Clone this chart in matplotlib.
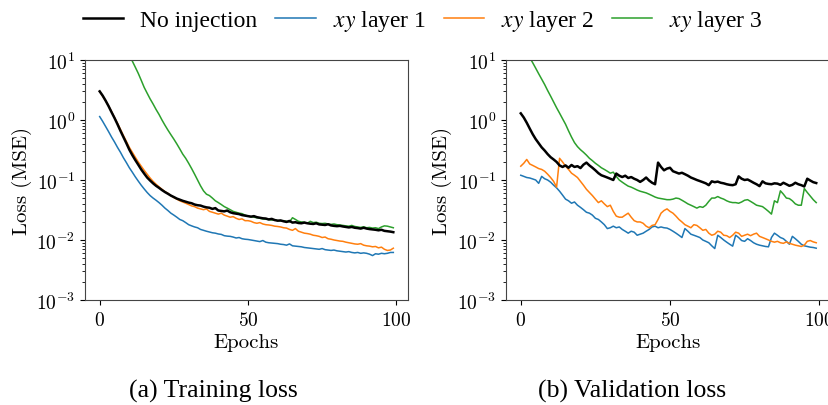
import numpy as np
import matplotlib
matplotlib.use("Agg")
import matplotlib.pyplot as plt
from matplotlib.ticker import FuncFormatter, FixedLocator, LogLocator, NullFormatter
from matplotlib.font_manager import FontProperties

plt.rcParams['mathtext.fontset'] = 'cm'

epochs = list(range(100))

series_labels = ["No injection", r"$xy$ layer 1", r"$xy$ layer 2", r"$xy$ layer 3"]
series_colors = ["black", "#1f77b4", "#ff7f0e", "#2ca02c"]

train_none = [3.0, 2.55, 2.1, 1.7, 1.35, 1.08, 0.85, 0.66, 0.52, 0.41,
              0.32, 0.26, 0.215, 0.18, 0.15, 0.128, 0.11, 0.098, 0.088, 0.080,
              0.074, 0.068, 0.063, 0.059, 0.055, 0.052, 0.049, 0.047, 0.045, 0.0435,
              0.042, 0.041, 0.039, 0.038, 0.0375, 0.036, 0.035, 0.0345, 0.033, 0.034,
              0.031, 0.0305, 0.030, 0.031, 0.029, 0.028, 0.0275, 0.027, 0.026, 0.0255,
              0.025, 0.0245, 0.025, 0.024, 0.0235, 0.023, 0.0228, 0.022, 0.0225, 0.0215,
              0.021, 0.0212, 0.0205, 0.020, 0.0208, 0.0195, 0.0198, 0.0192, 0.019, 0.0195,
              0.019, 0.0187, 0.0185, 0.019, 0.0182, 0.018, 0.0178, 0.0183, 0.0175, 0.0172,
              0.017, 0.0172, 0.0168, 0.0165, 0.0162, 0.0165, 0.016, 0.0158, 0.0155, 0.016,
              0.0155, 0.0152, 0.015, 0.0148, 0.0145, 0.0148, 0.0142, 0.014, 0.0138, 0.0135]

train_l1 = [1.14, 0.95, 0.78, 0.64, 0.52, 0.43, 0.35, 0.29, 0.235, 0.195,
            0.16, 0.135, 0.113, 0.096, 0.082, 0.071, 0.062, 0.055, 0.05, 0.046,
            0.042, 0.038, 0.034, 0.031, 0.028, 0.026, 0.024, 0.022, 0.021, 0.0195,
            0.018, 0.0172, 0.0165, 0.016, 0.015, 0.0145, 0.014, 0.0136, 0.0132, 0.013,
            0.0126, 0.0124, 0.0118, 0.0116, 0.0115, 0.0112, 0.0108, 0.011, 0.0105, 0.0103,
            0.0102, 0.01, 0.0098, 0.0096, 0.0094, 0.0098, 0.0092, 0.009, 0.0089, 0.0088,
            0.0087, 0.0085, 0.0084, 0.0082, 0.0086, 0.008, 0.0079, 0.0078, 0.0077, 0.0075,
            0.0074, 0.0073, 0.0072, 0.0071, 0.007, 0.0072, 0.0069, 0.0068, 0.0067, 0.0068,
            0.0066, 0.0065, 0.0064, 0.0063, 0.0064, 0.0062, 0.0061, 0.0062, 0.006, 0.0061,
            0.006, 0.0058, 0.0055, 0.0059, 0.0058, 0.006, 0.0059, 0.006, 0.0062, 0.0062]

train_l2 = [3.0, 2.5, 2.1, 1.72, 1.38, 1.1, 0.88, 0.7, 0.55, 0.44,
            0.35, 0.29, 0.24, 0.2, 0.17, 0.145, 0.125, 0.108, 0.095, 0.085,
            0.077, 0.07, 0.064, 0.06, 0.055, 0.051, 0.048, 0.045, 0.043, 0.041,
            0.039, 0.037, 0.036, 0.034, 0.033, 0.032, 0.033, 0.030, 0.029, 0.028,
            0.027, 0.028, 0.026, 0.025, 0.024, 0.0245, 0.023, 0.022, 0.0225, 0.021,
            0.021, 0.0205, 0.0195, 0.019, 0.0195, 0.0185, 0.018, 0.0178, 0.0175, 0.017,
            0.0168, 0.0165, 0.016, 0.0158, 0.015, 0.0145, 0.0155, 0.014, 0.0135, 0.013,
            0.0128, 0.0125, 0.012, 0.0118, 0.0115, 0.011, 0.0112, 0.0105, 0.0103, 0.01,
            0.0098, 0.0096, 0.0095, 0.0092, 0.009, 0.0088, 0.0086, 0.0085, 0.0087, 0.0082,
            0.008, 0.0079, 0.0077, 0.0078, 0.0074, 0.0076, 0.007, 0.0067, 0.0068, 0.0073]

train_l3 = [85, 68, 55, 44, 36, 29, 24, 19.5, 16, 13.5,
            11.5, 9.6, 7.6, 6.0, 4.6, 3.5, 2.8, 2.25, 1.85, 1.5,
            1.24, 1.0, 0.82, 0.68, 0.57, 0.48, 0.4, 0.33, 0.27, 0.23,
            0.19, 0.155, 0.125, 0.1, 0.08, 0.066, 0.058, 0.055, 0.05, 0.045,
            0.042, 0.039, 0.036, 0.034, 0.032, 0.030, 0.029, 0.028, 0.0275, 0.026,
            0.025, 0.0245, 0.024, 0.0235, 0.023, 0.0225, 0.0222, 0.022, 0.0215, 0.0218,
            0.021, 0.0208, 0.021, 0.0205, 0.02, 0.0235, 0.022, 0.0205, 0.02, 0.0198,
            0.019, 0.0205, 0.0195, 0.0198, 0.019, 0.0188, 0.019, 0.0185, 0.0182, 0.0185,
            0.018, 0.0178, 0.0175, 0.0172, 0.017, 0.0175, 0.0168, 0.0165, 0.0162, 0.0166,
            0.016, 0.0162, 0.0158, 0.016, 0.0155, 0.0165, 0.0172, 0.017, 0.0165, 0.016]

val_none = [1.29, 1.1, 0.9, 0.72, 0.58, 0.48, 0.41, 0.35, 0.31, 0.27,
            0.24, 0.22, 0.2, 0.175, 0.165, 0.175, 0.16, 0.178, 0.165, 0.17,
            0.158, 0.18, 0.195, 0.175, 0.16, 0.145, 0.13, 0.12, 0.115, 0.11,
            0.105, 0.1, 0.128, 0.118, 0.112, 0.118, 0.108, 0.112, 0.105, 0.1,
            0.093, 0.1, 0.11, 0.098, 0.09, 0.085, 0.195, 0.165, 0.145, 0.155,
            0.16, 0.14, 0.134, 0.128, 0.132, 0.125, 0.118, 0.11, 0.105, 0.1,
            0.096, 0.092, 0.088, 0.082, 0.095, 0.092, 0.094, 0.09, 0.088, 0.085,
            0.083, 0.082, 0.085, 0.115, 0.105, 0.1, 0.102, 0.096, 0.09, 0.085,
            0.079, 0.095, 0.088, 0.086, 0.085, 0.088, 0.087, 0.083, 0.09, 0.085,
            0.08, 0.083, 0.09, 0.085, 0.082, 0.078, 0.105, 0.098, 0.092, 0.089]

val_l1 = [0.12, 0.115, 0.11, 0.108, 0.104, 0.1, 0.088, 0.115, 0.105, 0.1,
          0.092, 0.082, 0.074, 0.065, 0.056, 0.048, 0.045, 0.041, 0.043, 0.038,
          0.035, 0.032, 0.029, 0.028, 0.026, 0.023, 0.022, 0.02, 0.018, 0.0155,
          0.016, 0.017, 0.016, 0.0165, 0.015, 0.014, 0.013, 0.014, 0.0135, 0.012,
          0.0125, 0.013, 0.014, 0.015, 0.0165, 0.017, 0.016, 0.0165, 0.016, 0.0158,
          0.015, 0.014, 0.013, 0.012, 0.011, 0.0155, 0.014, 0.0125, 0.012, 0.0115,
          0.011, 0.01, 0.0095, 0.009, 0.008, 0.0072, 0.012, 0.011, 0.01, 0.0092,
          0.0085, 0.0079, 0.012, 0.011, 0.0098, 0.0095, 0.0105, 0.0098, 0.009, 0.0085,
          0.0082, 0.008, 0.0078, 0.0077, 0.011, 0.013, 0.012, 0.011, 0.0105, 0.0095,
          0.0085, 0.0115, 0.0105, 0.0095, 0.0085, 0.008, 0.0078, 0.0076, 0.0075, 0.0073]

val_l2 = [0.17, 0.19, 0.22, 0.185, 0.175, 0.165, 0.155, 0.15, 0.14, 0.125,
          0.11, 0.095, 0.076, 0.23, 0.2, 0.17, 0.15, 0.13, 0.12, 0.11,
          0.095, 0.082, 0.07, 0.062, 0.055, 0.048, 0.042, 0.045, 0.04, 0.036,
          0.038, 0.03, 0.025, 0.024, 0.024, 0.026, 0.028, 0.024, 0.021, 0.02,
          0.02, 0.019, 0.017, 0.016, 0.0175, 0.018, 0.022, 0.028, 0.031, 0.033,
          0.03, 0.028, 0.025, 0.022, 0.02, 0.018, 0.017, 0.016, 0.018, 0.0175,
          0.016, 0.0145, 0.015, 0.013, 0.012, 0.0125, 0.014, 0.0135, 0.012, 0.0118,
          0.011, 0.012, 0.0135, 0.013, 0.0115, 0.012, 0.0125, 0.0118, 0.0125, 0.013,
          0.0115, 0.011, 0.0105, 0.01, 0.0095, 0.0092, 0.0095, 0.009, 0.0088, 0.0093,
          0.0088, 0.0085, 0.0082, 0.008, 0.0078, 0.0082, 0.0095, 0.0098, 0.0093, 0.009]

val_l3 = [20, 16, 13, 11, 9.0, 7.3, 5.9, 4.8, 3.9, 3.1,
          2.5, 2.0, 1.6, 1.3, 1.05, 0.85, 0.66, 0.52, 0.42, 0.36,
          0.32, 0.29, 0.26, 0.23, 0.21, 0.19, 0.175, 0.16, 0.15, 0.14,
          0.13, 0.135, 0.115, 0.1, 0.092, 0.085, 0.079, 0.076, 0.072, 0.068,
          0.065, 0.063, 0.061, 0.058, 0.055, 0.052, 0.05, 0.049, 0.048, 0.047,
          0.047, 0.048, 0.05, 0.049, 0.046, 0.043, 0.04, 0.038, 0.036, 0.034,
          0.036, 0.035, 0.038, 0.044, 0.05, 0.05, 0.053, 0.05, 0.048, 0.045,
          0.043, 0.042, 0.042, 0.041, 0.043, 0.046, 0.047, 0.044, 0.041, 0.038,
          0.037, 0.036, 0.033, 0.03, 0.027, 0.045, 0.042, 0.066, 0.058, 0.05,
          0.049, 0.045, 0.04, 0.038, 0.038, 0.072, 0.062, 0.054, 0.047, 0.042]

ytick_values = [1e-3, 1e-2, 1e-1, 1e0, 1e1]
xtick_values = [0, 50, 100]
captions = ["(a) Training loss", "(b) Validation loss"]

W, H = 829, 406
fig = plt.figure(figsize=(W / 100, H / 100), dpi=100)

ax1 = fig.add_axes([85 / W, 1 - 301 / H, 323 / W, 240 / H])
ax2 = fig.add_axes([506 / W, 1 - 301 / H, 325 / W, 240 / H])

panels = [(ax1, [train_none, train_l1, train_l2, train_l3]),
          (ax2, [val_none, val_l1, val_l2, val_l3])]

for ax, data in panels:
    handles = []
    for i, (vals, lab, col) in enumerate(zip(data, series_labels, series_colors)):
        lw = 1.8 if i == 0 else 1.1
        h, = ax.plot(epochs, vals, color=col, lw=lw, label=lab, zorder=3 if i == 0 else 2)
        handles.append(h)
    ax.set_yscale('log')
    ax.set_ylim(1e-3, 1e1)
    ax.set_xlim(-4.95, 103.95)
    ax.yaxis.set_major_locator(FixedLocator(ytick_values))
    ax.yaxis.set_major_formatter(FuncFormatter(lambda v, p: r'$10^{%d}$' % int(round(np.log10(v)))))
    ax.yaxis.set_minor_locator(LogLocator(base=10, subs=np.arange(2, 10), numticks=20))
    ax.yaxis.set_minor_formatter(NullFormatter())
    ax.xaxis.set_major_locator(FixedLocator(xtick_values))
    ax.xaxis.set_major_formatter(FuncFormatter(lambda v, p: r'$%d$' % int(v)))
    ax.tick_params(axis='both', which='major', labelsize=14)
    ax.set_xlabel('Epochs', fontfamily='cmr10', fontsize=15, labelpad=3)
    ax.set_ylabel('Loss (MSE)', fontfamily='cmr10', fontsize=15)
    ax.yaxis.set_label_coords(-0.165, 0.5)
    for s in ax.spines.values():
        s.set_color('#444444')

legend_font = FontProperties(family='Liberation Serif', size=17, math_fontfamily='stix')
fig.legend(handles=handles, loc='center', bbox_to_anchor=(423 / W, 1 - 22 / H),
           ncol=4, frameon=False, prop=legend_font, handlelength=1.7,
           handletextpad=0.72, columnspacing=0.77, borderaxespad=0)

fig.text(213 / W, 1 - 398 / H, captions[0], ha='center', va='baseline',
         fontfamily='Liberation Serif', fontsize=18.5)
fig.text(632 / W, 1 - 398 / H, captions[1], ha='center', va='baseline',
         fontfamily='Liberation Serif', fontsize=18.5)

fig.savefig('out.png', dpi=100)
